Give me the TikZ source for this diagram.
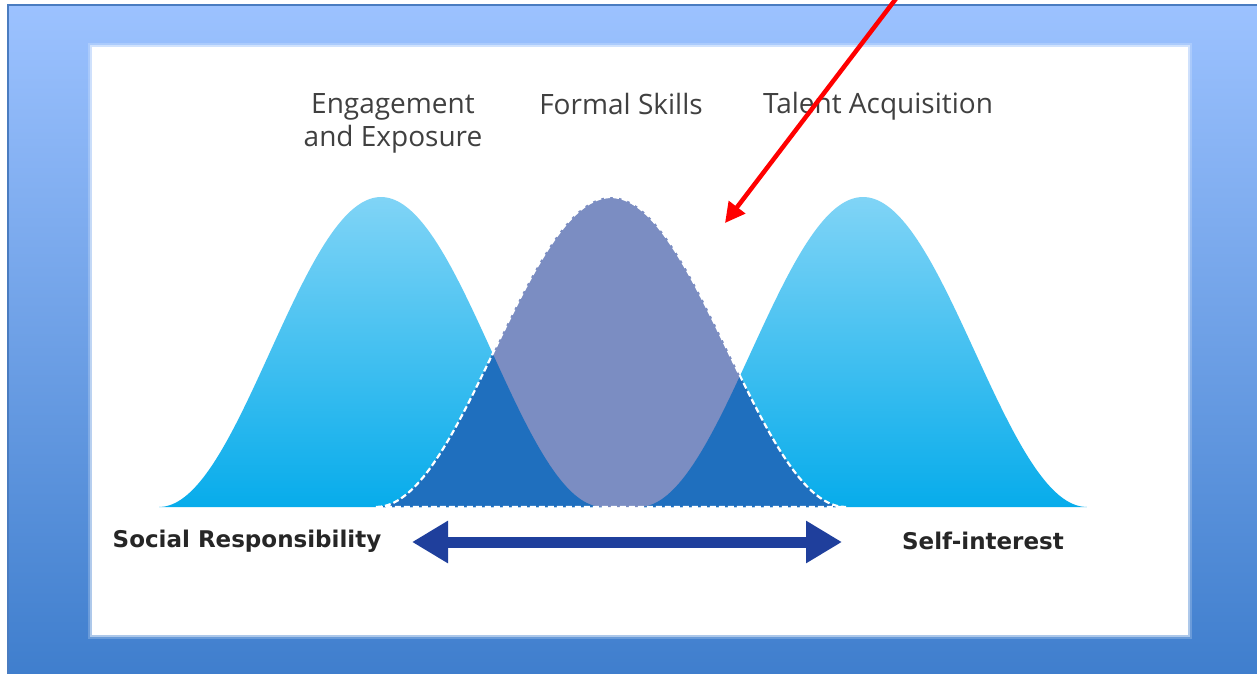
\documentclass[tikz,border=0pt]{standalone}
\usepackage{fontspec}
\setmainfont{Open Sans}
\newfontfamily\boldlabelfont{DejaVu Sans}
\usetikzlibrary{arrows.meta}
\definecolor{bgtop}{HTML}{9CC2FF}
\definecolor{bgbot}{HTML}{3F7ECD}
\definecolor{frameline}{HTML}{4A7CC0}
\definecolor{belltop}{HTML}{80D4F6}
\definecolor{bellbot}{HTML}{07ACEB}
\definecolor{overlap}{HTML}{1F6FBE}
\definecolor{midfill}{HTML}{7B8DC2}
\definecolor{arrowblue}{HTML}{1F3F9C}
\definecolor{labelgray}{HTML}{404040}
\definecolor{boldgray}{HTML}{262626}
\tikzset{
  toplabel/.style={text=labelgray, font=\fontsize{28}{33}\selectfont, align=center, inner sep=0pt},
  axislabel/.style={text=boldgray, font=\boldlabelfont\fontsize{23}{26}\selectfont\bfseries, inner sep=0pt},
  sidebell/.style={top color=belltop, bottom color=bellbot},
  axisarrow/.style={draw=arrowblue, line width=11pt, {Triangle[length=36pt,width=40pt]}-{Triangle[length=36pt,width=40pt]}},
  redarrow/.style={draw=red, line width=4.5pt, -{Triangle[length=20pt,width=20pt]}},
  dashedge/.style={draw=white, line width=2.2pt, dash pattern=on 6pt off 3pt}
}
\newcommand{\bellpath}[2]{plot[domain=-1:1, samples=80, smooth] ({#1+#2*\x},{507-310*(1+cos(180*\x))/2}) -- cycle}
\begin{document}
\begin{tikzpicture}[x=1pt, y=-1pt]
\useasboundingbox (0,0) rectangle (1257,673);
% background frame
\shade[top color=bgtop, bottom color=bgbot] (8,5) rectangle (1260,676);
\draw[frameline, line width=2pt] (8,676) -- (8,5) -- (1260,5);
% white panel with soft edge
\fill[white, opacity=0.2] (88,43) rectangle (1192,639);
\fill[white, opacity=0.45] (90,45) rectangle (1190,637);
\fill[white] (92,47) rectangle (1188,635);
% side bells
\shade[sidebell] \bellpath{381}{222};
\shade[sidebell] \bellpath{863}{224};
% middle bell
\fill[midfill] \bellpath{611}{235};
\begin{scope}
  \clip \bellpath{611}{235};
  \fill[overlap] \bellpath{381}{222};
  \fill[overlap] \bellpath{863}{224};
\end{scope}
\draw[dashedge] \bellpath{611}{235};
% labels
\node[toplabel] (eng) at (393,123) {Engagement\\and Exposure};
\node[toplabel] (formal) at (621,104) {Formal Skills};
\node[toplabel] (talent) at (878,106) {Talent Acquisition};
\node[axislabel] (social) at (247,541) {Social Responsibility};
\node[axislabel] (self) at (983,541) {Self-interest};
% axis arrow
\coordinate (arrL) at (412,542);
\coordinate (arrR) at (842,542);
\draw[axisarrow] (arrL) -- (arrR);
% red arrow
\coordinate (redS) at (898,-4);
\coordinate (redE) at (725,223);
\draw[redarrow] (redS) -- (redE);
\end{tikzpicture}
\end{document}
